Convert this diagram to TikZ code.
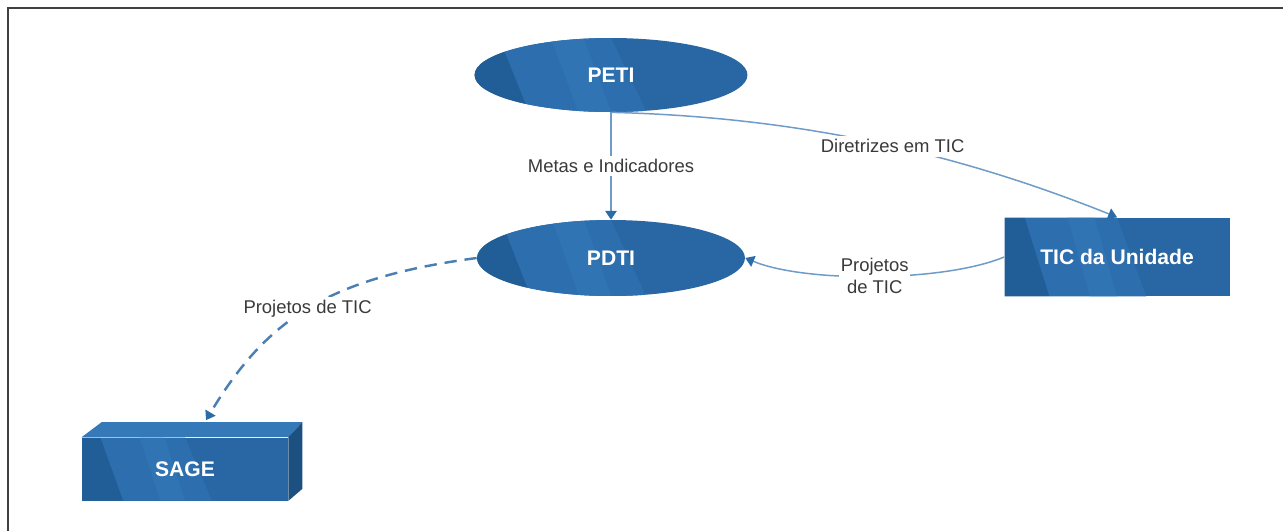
\documentclass[tikz,border=0pt]{standalone}
\usepackage{fontspec}
\setmainfont{Liberation Sans}
\usetikzlibrary{calc}
\usetikzlibrary{shapes}
\usetikzlibrary{arrows.meta}
\usepackage{xcolor}

\definecolor{nodebase}{HTML}{2867A3}
\definecolor{nodedark}{HTML}{215E97}
\definecolor{nodelight}{HTML}{2D6FAE}
\definecolor{nodeshine}{HTML}{3579B8}
\definecolor{linkblue}{HTML}{6E9BC7}
\definecolor{dashblue}{HTML}{4A7FB4}
\definecolor{tipblue}{HTML}{2A6BA8}
\definecolor{labelgray}{HTML}{3A3A3A}

\tikzset{
  facets/.style={path picture={
    \coordinate (fnw) at (path picture bounding box.north west);
    \coordinate (fne) at (path picture bounding box.north east);
    \coordinate (fsw) at (path picture bounding box.south west);
    \coordinate (fse) at (path picture bounding box.south east);
    \fill[nodedark] (fnw) -- ($(fnw)!0.09!(fne)$) -- ($(fsw)!0.2!(fse)$) -- (fsw) -- cycle;
    \fill[nodelight] ($(fnw)!0.09!(fne)$) -- ($(fnw)!0.5!(fne)$) -- ($(fsw)!0.63!(fse)$) -- ($(fsw)!0.2!(fse)$) -- cycle;
    \fill[nodeshine,opacity=0.5] ($(fnw)!0.28!(fne)$) -- ($(fnw)!0.4!(fne)$) -- ($(fsw)!0.5!(fse)$) -- ($(fsw)!0.38!(fse)$) -- cycle;
  }},
  plan/.style={ellipse,fill=nodebase,facets,inner sep=0pt,text=white,
    font=\fontsize{12}{14}\selectfont\bfseries},
  unit/.style={rectangle,fill=nodebase,facets,inner sep=0pt,text=white,
    font=\fontsize{12}{14}\selectfont\bfseries},
  edge/.style={draw=linkblue,line width=0.85pt,
    -{Triangle[length=5pt,width=6.5pt,color=tipblue]}},
  edgelabel/.style={fill=white,inner sep=2pt,text=labelgray,
    font=\fontsize{10.5}{12.5}\selectfont}
}

\begin{document}
\begin{tikzpicture}[x=0.02cm,y=-0.02cm]
\useasboundingbox (0,0) rectangle (1283,531);
\draw[line width=1.2pt,black!75] (8,531) -- (8,8) -- (1283,8);

% plans
\node[plan,minimum width=5.46cm,minimum height=1.48cm] (peti) at (611,75) {PETI};
\node[plan,minimum width=5.36cm,minimum height=1.52cm] (pdti) at (611,258) {PDTI};

% units
\node[unit,minimum width=4.5cm,minimum height=1.58cm] (tic) at (1117,257) {TIC da Unidade};
\node[unit,minimum width=4.12cm,minimum height=1.26cm] (sage) at (185,469) {SAGE};
\fill[nodeshine] (sage.north west) -- ++(20,-15) -- ($(sage.north east)+(14,-15)$) -- (sage.north east) -- cycle;
\fill[nodedark!85!black] (sage.north east) -- ++(14,-15) -- ($(sage.south east)+(14,-12)$) -- (sage.south east) -- cycle;
\coordinate (sagetop) at ($(sage.north)+(21,-17)$);

% links
\draw[edge] (peti.south) -- node[edgelabel] {Metas e Indicadores} (pdti.north);
\draw[edge] (peti.south) .. controls +(200,5) and +(-150,-60) .. node[edgelabel,pos=0.52] {Diretrizes em TIC} (tic.north);
\draw[edge] (tic.west) .. controls +(-60,25) and +(60,25) .. node[edgelabel,align=center,inner sep=1pt] {Projetos\\de TIC} (pdti.east);
\draw[edge,draw=dashblue,line width=1.4pt,dash pattern=on 7pt off 4.5pt] (pdti.west) .. controls +(-150,20) and +(60,-100) .. node[edgelabel] {Projetos de TIC} (sagetop);

\end{tikzpicture}
\end{document}
